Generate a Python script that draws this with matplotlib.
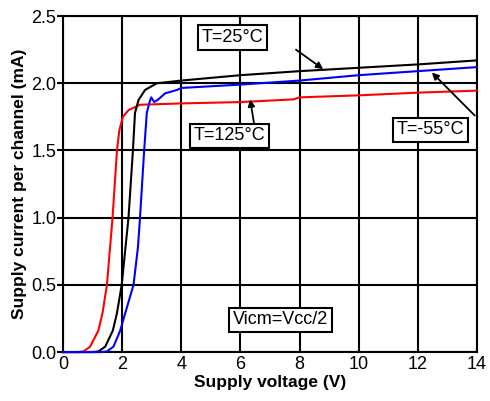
import matplotlib.pyplot as plt

plt.rcParams["font.family"] = ["Liberation Sans", "DejaVu Sans"]

# supply voltage (V) / supply current per channel (mA)
v_125 = [0, 0.5, 0.69, 0.91, 1.19, 1.33, 1.48, 1.67, 1.82, 1.90, 2.02, 2.21, 2.6, 4, 6, 7.8, 8, 10, 12, 14]
i_125 = [0, 0.0, 0.005, 0.04, 0.16, 0.29, 0.5, 1.0, 1.5, 1.65, 1.75, 1.80, 1.84, 1.85, 1.86, 1.88, 1.895, 1.91, 1.93, 1.945]

v_25 = [0, 1.0, 1.19, 1.42, 1.68, 1.82, 1.98, 2.21, 2.36, 2.43, 2.55, 2.77, 3.17, 4, 6, 8, 10, 12, 14]
i_25 = [0, 0, 0.005, 0.04, 0.16, 0.29, 0.5, 1.0, 1.5, 1.78, 1.875, 1.95, 2.0, 2.02, 2.06, 2.09, 2.115, 2.14, 2.17]

v_m55 = [0, 1.3, 1.48, 1.70, 1.93, 2.10, 2.38, 2.53, 2.60, 2.74, 2.83, 2.91, 2.98, 3.08, 3.22, 3.45, 3.85, 4, 6, 8, 10, 12, 14]
i_m55 = [0, 0, 0.005, 0.04, 0.16, 0.29, 0.5, 0.78, 1.0, 1.5, 1.78, 1.85, 1.895, 1.86, 1.88, 1.925, 1.95, 1.965, 1.99, 2.02, 2.06, 2.09, 2.12]

xticks = [0, 2, 4, 6, 8, 10, 12, 14]
yticks = [0.0, 0.5, 1.0, 1.5, 2.0, 2.5]

fig = plt.figure(figsize=(4.9, 4.01), dpi=100)
ax = fig.add_axes([0.129, 0.122, 0.844, 0.838])

ax.plot(v_125, i_125, color="#ff0000", lw=1.5, clip_on=False, zorder=5)
ax.plot(v_25, i_25, color="black", lw=1.5, clip_on=False, zorder=5)
ax.plot(v_m55, i_m55, color="#0000ff", lw=1.5, clip_on=False, zorder=5)

ax.set_xlim(0, 14)
ax.set_ylim(0, 2.5)
ax.set_xticks(xticks)
ax.set_yticks(yticks)
ax.set_yticklabels([f"{t:.1f}" for t in yticks])
ax.grid(True, color="black", lw=1.5)
for s in ax.spines.values():
    s.set_linewidth(1.5)
ax.tick_params(axis="both", labelsize=13, width=1.5, length=4, pad=1)
ax.tick_params(axis="x", length=0, pad=3)

ax.set_xlabel("Supply voltage (V)", fontsize=12.5, fontweight="bold", labelpad=1)
ax.set_ylabel("Supply current per channel (mA)", fontsize=12.5, fontweight="bold", labelpad=3)

box = dict(boxstyle="square,pad=0.2", fc="white", ec="black", lw=1.5)
arrow = dict(arrowstyle="-|>", color="black", lw=1.3, mutation_scale=10, shrinkA=0, shrinkB=0)

ax.text(5.72, 2.34, "T=25°C", fontsize=13, ha="center", va="center", bbox=box, zorder=6)
ax.annotate("", xy=(8.8, 2.105), xytext=(7.88, 2.25), arrowprops=arrow, zorder=6)

ax.text(5.63, 1.61, "T=125°C", fontsize=13, ha="center", va="center", bbox=box, zorder=6)
ax.annotate("", xy=(6.33, 1.88), xytext=(6.46, 1.70), arrowprops=arrow, zorder=6)

ax.text(12.44, 1.655, "T=-55°C", fontsize=13, ha="center", va="center", bbox=box, zorder=6)
ax.annotate("", xy=(12.48, 2.08), xytext=(13.93, 1.76), arrowprops=arrow, zorder=6)

ax.text(7.36, 0.24, "Vicm=Vcc/2", fontsize=13, ha="center", va="center", bbox=box, zorder=6)

fig.savefig("out.png", dpi=100)
